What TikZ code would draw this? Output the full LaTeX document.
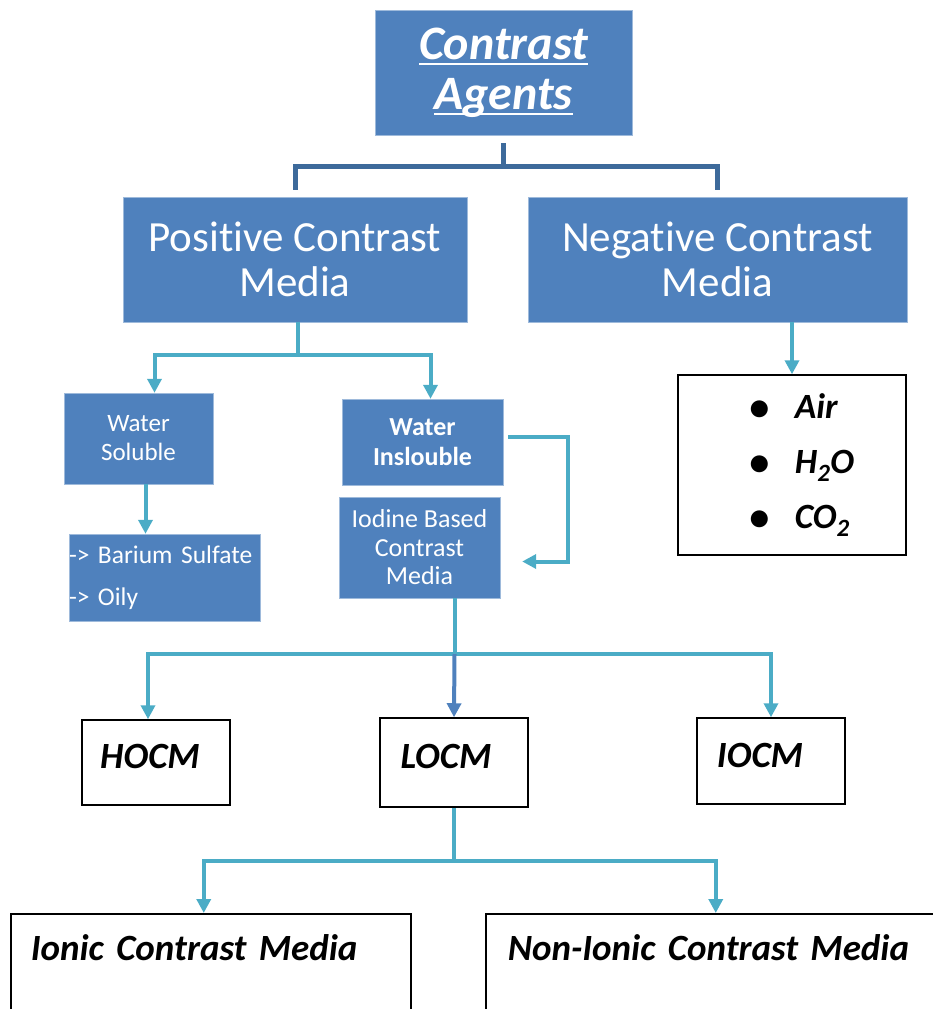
\documentclass[tikz,border=0pt]{standalone}
\usepackage{fontspec}
\setmainfont{Carlito}[Ligatures=NoCommon]
\usetikzlibrary{arrows.meta, positioning, calc}
\definecolor{boxblue}{HTML}{4F81BD}
\definecolor{treeblue}{HTML}{3D6A9B}
\definecolor{linkteal}{HTML}{4BACC6}
\newcommand{\ulword}[1]{\setbox0\hbox{#1}\rlap{\rule[-6pt]{\wd0}{2.5pt}}\box0}
\newcommand{\gasitem}[1]{\hspace*{20pt}{\fontsize{40}{55}\selectfont\raisebox{-2pt}{\textbullet}}\hspace{25pt}#1}

\begin{document}
\begin{tikzpicture}[x=1pt, y=-1pt,
  bluebox/.style={draw=boxblue!55!white, fill=boxblue, text=white, align=center, inner sep=1pt},
  whitebox/.style={draw=black, line width=1.5pt, fill=white, align=center, font=\fontsize{37}{42}\selectfont\bfseries\itshape},
  tree/.style={draw=treeblue, line width=5pt},
  link/.style={draw=linkteal, line width=4pt},
  arr/.style={link, -{Triangle[width=14pt, length=14pt]}},
]
\useasboundingbox (0,0) rectangle (933,1009);
\clip (0,0) rectangle (933,1009);

\node[bluebox, minimum width=257pt, minimum height=125pt, font=\fontsize{48}{50}\selectfont\bfseries\itshape] (agents) at (503.5,72.5) {\ulword{Contrast}\\\ulword{Agents}};
\node[bluebox, minimum width=344pt, minimum height=125pt, font=\fontsize{43}{45}\selectfont] (pos) at (295,259.5) {Positive Contrast\\Media};
\node[bluebox, minimum width=379pt, minimum height=125pt, font=\fontsize{43}{45}\selectfont] (neg) at (717.5,259.5) {Negative Contrast\\Media};

\node[bluebox, minimum width=149pt, minimum height=91pt, font=\fontsize{25}{29}\selectfont] (wsol) at (138.5,438.5) {Water\\Soluble};
\node[bluebox, minimum width=161pt, minimum height=86pt, font=\fontsize{26}{30}\selectfont\bfseries] (wins) at (422.5,442) {Water\\Inslouble};
\node[bluebox, text width=191pt, inner xsep=0pt, minimum height=87pt, align=left, font=\fontsize{25.5}{42}\selectfont] (barium) at (164.5,577.5) {-> Barium Sulfate\\-> Oily};
\node[bluebox, minimum width=161pt, minimum height=101pt, font=\fontsize{26}{28.5}\selectfont] (iodine) at (419.5,547.5) {Iodine Based\\Contrast\\Media};
\node[whitebox, minimum width=228pt, minimum height=180pt, align=left, font=\fontsize{35.5}{55}\selectfont\bfseries\itshape] (gases) at (792,465) {\gasitem{Air}\\\gasitem{H\textsubscript{2}O}\\\gasitem{CO\textsubscript{2}}};

\node[whitebox, minimum width=148pt, minimum height=85pt, text depth=12pt] (hocm) at (156,762.5) {HOCM\hspace*{12pt}};
\node[whitebox, minimum width=148pt, minimum height=89pt, text depth=12pt] (locm) at (454,762.5) {LOCM\hspace*{16pt}};
\node[whitebox, minimum width=148pt, minimum height=86pt, text depth=12pt] (iocm) at (771,761) {IOCM\hspace*{22pt}};

\node[whitebox, anchor=north west, text width=360pt, inner xsep=20pt, inner ysep=0pt, text height=47pt, text depth=120pt, align=left] (ionic) at (10,913) {Ionic Contrast Media};
\node[whitebox, anchor=north west, text width=426pt, inner xsep=22pt, inner ysep=0pt, text height=47pt, text depth=120pt, align=left] (nonionic) at (485,913) {Non-Ionic Contrast Media};

% top level
\draw[tree] ([yshift=-8pt]agents.south) -- ++(0,23) coordinate (fork);
\draw[tree] (fork) -| ([yshift=7pt]pos.north);
\draw[tree] (fork) -| ([yshift=7pt]neg.north);

% positive / negative
\draw[link] ([xshift=3pt]pos.south) -- ++(0,33) coordinate (posfork);
\draw[arr] (posfork) -| ([xshift=16pt]wsol.north);
\draw[arr] (posfork) -| ([xshift=8pt]wins.north);
\draw[arr] (neg.south -| gases.north) -- (gases.north);

\draw[arr] ([xshift=7pt]wsol.south) -- ([xshift=7pt]wsol.south |- barium.north);
\draw[arr] ([shift={(5pt,5pt)}]wins.east) -- ++(60,0) |- ([shift={(22pt,-14pt)}]iodine.east);

% osmolality
\draw[link] ([xshift=35pt]iodine.south) -- ++(0,56) coordinate (osmo);
\draw[arr] (osmo) -| ([xshift=-8pt]hocm.north);
\draw[arr] (osmo) -| (iocm.north);
\draw[arr, draw=boxblue] (osmo) -- (locm.north);

% ionicity
\draw[link] (locm.south) -- ++(0,53) coordinate (ion);
\draw[arr] (ion) -| ([xshift=-7pt]ionic.north);
\draw[arr] (ion) -| ([xshift=-5pt]nonionic.north);

\end{tikzpicture}
\end{document}
